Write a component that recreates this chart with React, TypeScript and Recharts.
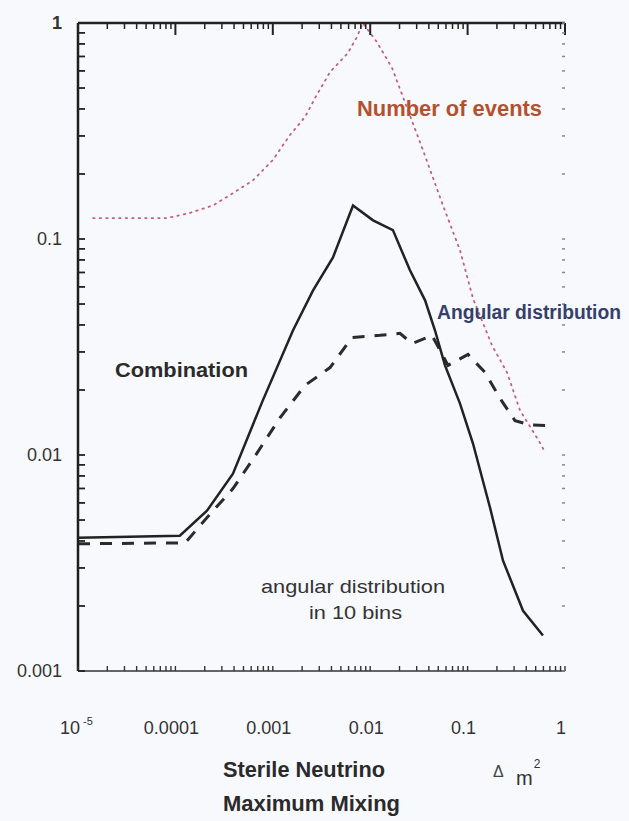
import { Line, LineChart, XAxis, YAxis } from "recharts"

// Δm² positions (eV²) and sensitivity for the combined fit
const combinationDm2 = [1e-5, 1.11e-4, 2.11e-4, 3.9e-4, 7.9e-4, 1.61e-3, 2.59e-3, 4.15e-3, 6.66e-3, 0.0107, 0.0171, 0.0256, 0.0366, 0.0463, 0.0586, 0.0836, 0.1136, 0.17, 0.231, 0.371, 0.594]
const combinationSens = [0.00414, 0.00423, 0.00552, 0.0082, 0.0179, 0.0377, 0.0578, 0.0822, 0.143, 0.122, 0.11, 0.0716, 0.052, 0.0377, 0.026, 0.0173, 0.0113, 0.0057, 0.00324, 0.0019, 0.00146]

// angular distribution alone (10 bins)
const angularDm2 = [1e-5, 1.26e-4, 2.11e-4, 3.9e-4, 6.88e-4, 1.19e-3, 2.14e-3, 3.87e-3, 6.5e-3, 0.0126, 0.0202, 0.0269, 0.0431, 0.063, 0.101, 0.151, 0.215, 0.307, 0.438, 0.653]
const angularSens = [0.00388, 0.00392, 0.00513, 0.00699, 0.0102, 0.0149, 0.021, 0.0254, 0.035, 0.0358, 0.0366, 0.0328, 0.0358, 0.026, 0.0292, 0.0241, 0.0183, 0.0144, 0.0138, 0.0137]

// number of events only
const eventsDm2 = [1.43e-5, 8.2e-5, 1.41e-4, 2.43e-4, 3.9e-4, 6.26e-4, 1.0e-3, 1.5e-3, 2.14e-3, 2.71e-3, 3.87e-3, 5.9e-3, 7.3e-3, 8.4e-3, 0.0117, 0.0168, 0.0348, 0.0559, 0.0836, 0.1136, 0.178, 0.254, 0.345, 0.553, 0.623]
const eventsSens = [0.125, 0.125, 0.132, 0.143, 0.163, 0.187, 0.232, 0.303, 0.367, 0.449, 0.593, 0.726, 0.861, 1.0, 0.817, 0.618, 0.258, 0.143, 0.0887, 0.0531, 0.0322, 0.0241, 0.0161, 0.0114, 0.0103]

const xMajorTicks = [1e-5, 1e-4, 1e-3, 1e-2, 1e-1, 1]
const yMajorTicks = [0.001, 0.01, 0.1, 1]
const yTickLabels = ["0.001", "0.01", "0.1", "1"]
const xTickLabels = ["10", "0.0001", "0.001", "0.01", "0.1", "1"]

const steps = [2, 3, 4, 5, 6, 7, 8, 9]
const xMinorTicks = [1e-5, 1e-4, 1e-3, 1e-2, 1e-1].flatMap((d) => steps.map((k) => +(k * d).toPrecision(3)))
const yMinorTicks = [1e-3, 1e-2, 1e-1].flatMap((d) => steps.map((k) => +(k * d).toPrecision(3)))
const xAllTicks = [...xMajorTicks, ...xMinorTicks]
const yAllTicks = [...yMajorTicks, ...yMinorTicks]

const toPoints = (xs: number[], ys: number[]) => xs.map((x, i) => ({ x, y: ys[i] }))

const WIDTH = 629
const HEIGHT = 821
const MARGIN = { top: 23, right: 64, left: 18, bottom: 80 }
const Y_AXIS_W = 60
const X_AXIS_H = 70
const PLOT_W = WIDTH - MARGIN.left - MARGIN.right - Y_AXIS_W
const PLOT_H = HEIGHT - MARGIN.top - MARGIN.bottom - X_AXIS_H

const FONT = "'Liberation Sans', Arial, sans-serif"

// bottom axis ticks; also puts the matching inward tick on the top frame
function XTick({ x, y, payload }: any) {
  const i = xMajorTicks.indexOf(payload.value)
  const top = y - PLOT_H
  const marks = (
    <g>
      <line x1={x} x2={x} y1={y} y2={y - 5} stroke="#333" strokeWidth={1.4} />
      <line x1={x} x2={x} y1={top} y2={top + (i >= 0 ? 12 : 6)} stroke="#222" strokeWidth={i >= 0 ? 2 : 1.5} />
    </g>
  )
  if (i < 0) return marks
  return (
    <g>
      {marks}
      {i === 0 ? (
        <text x={x - 18} y={y + 63} fontFamily={FONT} fontSize={18} fill="#333">
          10
          <tspan dx={3} dy={-9} fontSize={11}>-5</tspan>
        </text>
      ) : (
        <text x={x - 4} y={y + 63} textAnchor="middle" fontFamily={FONT} fontSize={18} fill="#333">
          {xTickLabels[i]}
        </text>
      )}
    </g>
  )
}

// right side: faint tick marks, plus the inward ticks on the left axis
function RightTick({ x, y }: any) {
  const left = x - PLOT_W
  return (
    <g>
      <line x1={x} x2={x - 3} y1={y} y2={y} stroke="#888" strokeWidth={1.5} />
      <line x1={left} x2={left + 7} y1={y} y2={y} stroke="#222" strokeWidth={1.8} />
    </g>
  )
}

function YTick({ x, y, payload }: any) {
  const i = yMajorTicks.indexOf(payload.value)
  return (
    <text x={x - 16} y={y + 6} textAnchor="end" fontFamily={FONT} fontSize={18} fill="#333" fontWeight={i === 3 ? "bold" : "normal"}>
      {yTickLabels[i]}
    </text>
  )
}

export default function App() {
  return (
    <div style={{ position: "absolute", left: 0, top: 0, width: WIDTH, height: HEIGHT, background: "#f8f9fd" }}>
      <LineChart width={WIDTH} height={HEIGHT} margin={MARGIN}>
        <XAxis xAxisId="main" dataKey="x" type="number" scale="log" domain={[1e-5, 1]} allowDataOverflow
          ticks={xAllTicks} interval={0} tick={<XTick />} tickLine={false} tickSize={0} tickMargin={0}
          axisLine={{ stroke: "#333", strokeWidth: 1.5 }} height={X_AXIS_H} />
        <XAxis xAxisId="top" orientation="top" type="number" scale="log" domain={[1e-5, 1]} allowDataOverflow mirror
          ticks={xMajorTicks} tick={false} tickLine={false} axisLine={{ stroke: "#222", strokeWidth: 2.5 }} />

        <YAxis yAxisId="main" type="number" scale="log" domain={[0.001, 1]} allowDataOverflow
          ticks={yMajorTicks} interval={0} tick={<YTick />} tickLine={false} tickSize={0} tickMargin={0}
          axisLine={{ stroke: "#1e1e1e", strokeWidth: 2.5 }} width={Y_AXIS_W} />
        <YAxis yAxisId="right" orientation="right" type="number" scale="log" domain={[0.001, 1]} allowDataOverflow mirror
          ticks={yAllTicks} interval={0} tick={<RightTick />} tickLine={false} tickSize={0} tickMargin={0} axisLine={false} />

        <Line xAxisId="main" yAxisId="main" data={toPoints(eventsDm2, eventsSens)} dataKey="y" type="linear"
          stroke="#c4607a" strokeWidth={1.8} strokeDasharray="1.5 5" strokeLinecap="round" dot={false} isAnimationActive={false} />
        <Line xAxisId="main" yAxisId="main" data={toPoints(angularDm2, angularSens)} dataKey="y" type="linear"
          stroke="#2b2b2b" strokeWidth={3} strokeDasharray="12 10" dot={false} isAnimationActive={false} />
        <Line xAxisId="main" yAxisId="main" data={toPoints(combinationDm2, combinationSens)} dataKey="y" type="linear"
          stroke="#222" strokeWidth={2.5} dot={false} isAnimationActive={false} />
      </LineChart>

      <svg width={WIDTH} height={HEIGHT} style={{ position: "absolute", left: 0, top: 0, pointerEvents: "none" }} fontFamily={FONT}>
        <text x={357} y={116} fontSize={22} fontWeight="bold" fill="#b3512e" textLength={185} lengthAdjust="spacingAndGlyphs">Number of events</text>
        <text x={437} y={319} fontSize={20} fontWeight="bold" fill="#34406a" textLength={184} lengthAdjust="spacingAndGlyphs">Angular distribution</text>
        <text x={115} y={377} fontSize={21} fontWeight="bold" fill="#2a2a2a" textLength={133} lengthAdjust="spacingAndGlyphs">Combination</text>
        <text x={261} y={593} fontSize={19} fill="#333" textLength={184} lengthAdjust="spacingAndGlyphs">angular distribution</text>
        <text x={309} y={619} fontSize={19} fill="#333" textLength={93} lengthAdjust="spacingAndGlyphs">in 10 bins</text>
        <text x={223} y={777} fontSize={22} fontWeight="bold" fill="#2a2a2a" textLength={162} lengthAdjust="spacingAndGlyphs">Sterile Neutrino</text>
        <text x={223} y={811} fontSize={22} fontWeight="bold" fill="#2a2a2a" textLength={177} lengthAdjust="spacingAndGlyphs">Maximum Mixing</text>
        <text x={493} y={777} fontSize={16} fill="#444">Δ</text>
        <text x={516} y={785} fontSize={20} fill="#333">
          m<tspan dx={1} dy={-17} fontSize={12}>2</tspan>
        </text>
      </svg>
    </div>
  )
}
